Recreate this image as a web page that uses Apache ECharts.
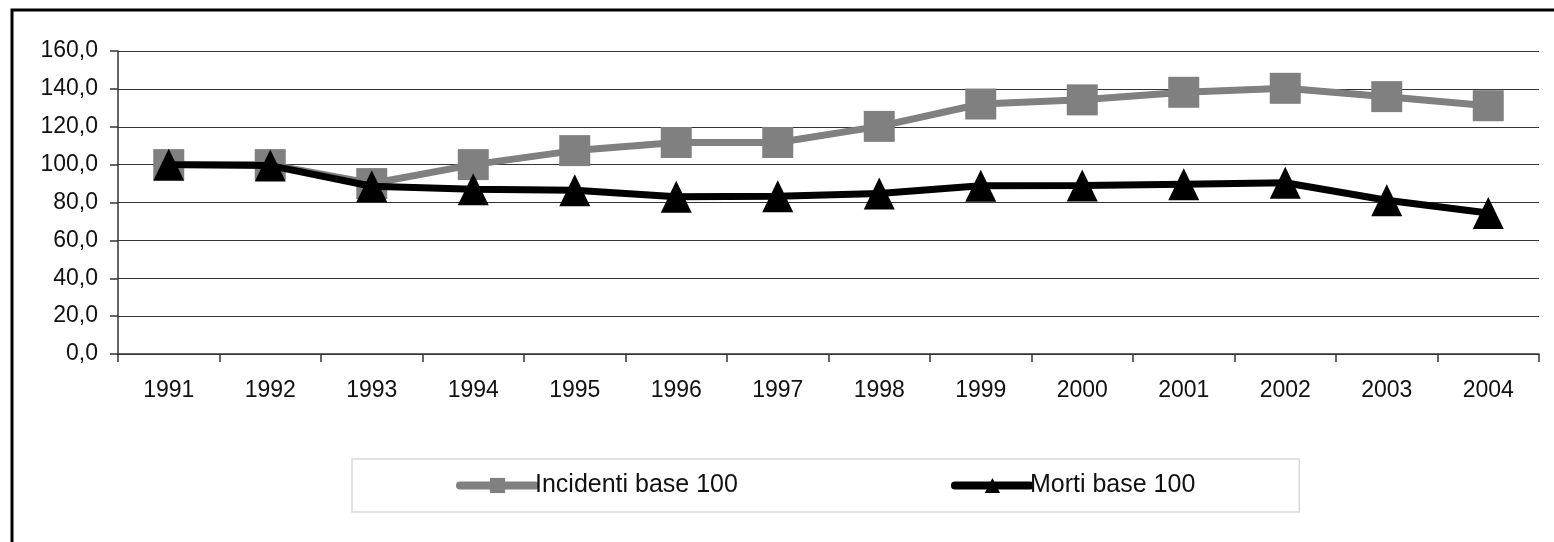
<!DOCTYPE html>
<html>
<head>
<meta charset="utf-8">
<script src="https://cdn.jsdelivr.net/npm/echarts@6/dist/echarts.min.js"></script>
<style>
html,body{margin:0;padding:0;background:#fff;}
#chart{width:1554px;height:542px;}
</style>
</head>
<body>
<div id="chart"></div>
<script>
var years = ['1991','1992','1993','1994','1995','1996','1997','1998','1999','2000','2001','2002','2003','2004'];
var incidenti = [100, 100, 90, 100, 107.4, 111.7, 111.7, 120.2, 132.0, 134.2, 138.2, 140.3, 135.9, 131.1];
var morti = [100, 99.5, 88.6, 87.0, 86.5, 83.0, 83.3, 84.8, 88.8, 89.0, 89.7, 90.4, 81.2, 74.5];
var seriesNames = ['Incidenti base 100', 'Morti base 100'];

var FONT = '"Liberation Sans", Arial, sans-serif';
var chart = echarts.init(document.getElementById('chart'), null, {renderer: 'canvas'});
chart.setOption({
  animation: false,
  backgroundColor: '#fff',
  grid: {left: 118, right: 15, top: 51, bottom: 188, containLabel: false},
  xAxis: {
    type: 'category',
    data: years,
    boundaryGap: true,
    axisLine: {lineStyle: {color: '#333', width: 1.5}},
    axisTick: {show: true, length: 8, lineStyle: {color: '#333', width: 1.5}},
    axisLabel: {color: '#111', fontFamily: FONT, fontSize: 23, margin: 25, interval: 0},
    splitLine: {show: false}
  },
  yAxis: {
    type: 'value',
    min: 0, max: 160, interval: 20,
    axisLine: {show: true, lineStyle: {color: '#333', width: 1.5}},
    axisTick: {show: true, length: 8, lineStyle: {color: '#333', width: 1.5}},
    axisLabel: {color: '#111', fontFamily: FONT, fontSize: 23, margin: 20,
      formatter: function (v) { return v.toFixed(1).replace('.', ','); }},
    splitLine: {show: true, lineStyle: {color: '#333', width: 1.2}}
  },
  legend: {
    left: 352, top: 459,
    padding: [14, 104, 14, 104],
    itemGap: 213,
    itemWidth: 75, itemHeight: 19,
    borderColor: '#d9d9d9', borderWidth: 1.5,
    lineStyle: {width: 8, cap: 'round'},
    textStyle: {color: '#111', fontFamily: FONT, fontSize: 25, lineHeight: 25, padding: [0, 0, 0, -5]},
    data: seriesNames
  },
  graphic: [{
    type: 'rect',
    shape: {x: 12, y: 10, width: 1600, height: 600},
    style: {fill: null, stroke: '#000', lineWidth: 3},
    silent: true, z: 100
  }],
  series: [{
    name: seriesNames[0],
    type: 'line',
    data: incidenti,
    symbol: 'rect',
    symbolSize: 31,
    itemStyle: {color: '#808080'},
    lineStyle: {color: '#808080', width: 7},
    z: 2
  }, {
    name: seriesNames[1],
    type: 'line',
    data: morti,
    symbol: 'triangle',
    symbolSize: [31, 32],
    itemStyle: {color: '#000'},
    lineStyle: {color: '#000', width: 7},
    z: 3
  }]
});
</script>
</body>
</html>
